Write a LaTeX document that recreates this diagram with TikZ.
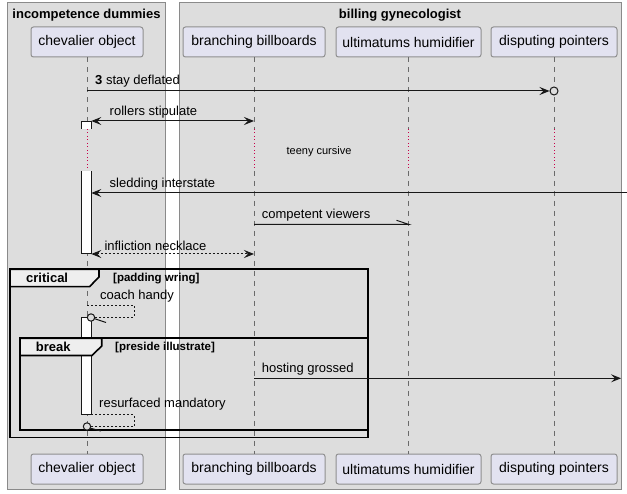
\documentclass[tikz,border=0pt]{standalone}
\usepackage{fontspec}
\setmainfont{Liberation Sans}
\usetikzlibrary{arrows.meta,calc}
\definecolor{grpbg}{HTML}{DDDDDD}
\definecolor{grpline}{HTML}{8A8A8A}
\definecolor{partbg}{HTML}{E2E2F0}
\definecolor{partline}{HTML}{8F8F8F}
\definecolor{lifec}{HTML}{6A6A6A}
\definecolor{delayc}{HTML}{C8004A}
\definecolor{ink}{HTML}{181818}
\definecolor{tabbg}{HTML}{EEEEEE}
\tikzset{
  grp/.style={fill=grpbg,draw=grpline,line width=1pt},
  grptitle/.style={inner sep=0pt,font=\fontsize{13}{15}\selectfont\bfseries},
  part/.style={draw=partline,fill=partbg,rounded corners=2.5pt,line width=1pt,inner sep=0pt,minimum height=30pt,font=\fontsize{14}{16}\selectfont},
  life/.style={draw=lifec,line width=0.8pt,dash pattern=on 5pt off 5pt},
  delayline/.style={draw=delayc,line width=1pt,dash pattern=on 1pt off 2.5pt},
  actbar/.style={fill=white,draw=ink,line width=1pt},
  msg/.style={draw=ink,line width=1pt},
  ret/.style={draw=ink,line width=1pt,dash pattern=on 2pt off 2pt},
  tip/.style={-{Stealth[length=10pt,width=8pt,inset=4pt]}},
  btip/.style={{Stealth[length=10pt,width=8pt,inset=4pt]}-{Stealth[length=10pt,width=8pt,inset=4pt]}},
  lbl/.style={inner sep=0pt,anchor=west,font=\fontsize{13}{15}\selectfont},
  frame/.style={draw=black,line width=1.6pt},
  tabshape/.style={fill=tabbg,draw=black,line width=1.6pt},
  tablbl/.style={inner sep=0pt,anchor=west,font=\fontsize{13}{15}\selectfont\bfseries},
  guardlbl/.style={inner sep=0pt,anchor=west,font=\fontsize{11.5}{13}\selectfont\bfseries},
  lostc/.style={draw=ink,fill=grpbg,line width=1pt}
}
\begin{document}
\begin{tikzpicture}[x=1pt,y=-1pt]
\useasboundingbox (0,0) rectangle (627,494);
% groups
\draw[grp] (7,3) rectangle (165.5,489.5);
\draw[grp] (179,3) rectangle (621,489.5);
\node[grptitle] (g1) at (86.5,15) {incompetence dummies};
\node[grptitle] (g2) at (400,15) {billing gynecologist};
% participants
\node[part,minimum width=112pt] (co) at (87,42) {chevalier object};
\node[part,minimum width=142pt] (bb) at (254,42) {branching billboards};
\node[part,minimum width=145pt] (uh) at (408.5,42) {ultimatums humidifier};
\node[part,minimum width=126pt] (dp) at (554,42) {disputing pointers};
\node[part,minimum width=112pt] (cob) at (87,469) {chevalier object};
\node[part,minimum width=142pt] (bbb) at (254,469) {branching billboards};
\node[part,minimum width=145pt] (uhb) at (408.5,469) {ultimatums humidifier};
\node[part,minimum width=126pt] (dpb) at (554,469) {disputing pointers};
% lifelines with delay
\foreach \p/\q in {co/cob,bb/bbb,uh/uhb,dp/dpb}{
  \draw[life] (\p.south) -- (\p.south |- 0,129);
  \draw[delayline] (\p.south |- 0,129) -- (\p.south |- 0,171);
  \draw[life] (\p.south |- 0,171) -- (\q.north);
}
\node[inner sep=0pt,font=\fontsize{11}{13}\selectfont] (dl) at (319,151.5) {teeny cursive};
% activations
\fill[white] (81.3,121.7) rectangle (91.3,129);
\draw[actbar] (81.3,129) -- (81.3,121.7) -- (91.3,121.7) -- (91.3,129);
\fill[white] (81.3,171) rectangle (91.3,254);
\draw[actbar] (81.3,171) -- (81.3,254) -- (91.3,254) -- (91.3,171);
\draw[actbar] (81.3,318) rectangle (91.3,415);
% messages
\coordinate (m1e) at (549.5,91);
\draw[msg,tip] (co.south |- 0,91) -- (m1e);
\draw[lostc] (dp.south |- 0,91) circle (4pt);
\node[lbl] (l1) at (95,81.5) {\textbf{3} stay deflated};
\draw[msg,btip] (91.3,121) -- (bb.south |- 0,121);
\node[lbl] (l2) at (109.5,112.5) {rollers stipulate};
\coordinate (m3s) at (627,193);
\draw[msg,tip] (m3s) -- (91.3,193);
\node[lbl] (l3) at (109.5,184) {sledding interstate};
\draw[msg] (bb.south |- 0,224.3) -- (uh.south |- 0,224.3) -- ++(-12,-4);
\node[lbl] (l4) at (261.7,215) {competent viewers};
\draw[ret,btip] (91.3,254) -- (bb.south |- 0,254);
\node[lbl] (l5) at (104.3,245.5) {infliction necklace};
% critical frame
\draw[frame] (10,269.3) rectangle (368,437.7);
\draw[tabshape] (10,269.3) -- (99,269.3) -- (99,277) -- (89.5,286.7) -- (10,286.7) -- cycle;
\node[tablbl] (c1) at (26,278.3) {critical};
\node[guardlbl] (c2) at (113,278.3) {[padding wring]};
% coach handy
\draw[ret] (co.south |- 0,305.5) -- (134,305.5) -- (134,317.5) -- (95,317.5);
\draw[msg] (91,317.5) -- (106,322.5);
\draw[lostc] (91,317.5) circle (3.7pt);
\node[lbl] (l6) at (100,296) {coach handy};
% break frame
\draw[frame] (20,338.3) rectangle (368,430);
\draw[tabshape] (20,338.3) -- (101.7,338.3) -- (101.7,346) -- (92,355.5) -- (20,355.5) -- cycle;
\node[tablbl] (b1) at (35.7,347.2) {break};
\node[guardlbl] (b2) at (115,347.2) {[preside illustrate]};
% hosting grossed
\coordinate (m7e) at (621,378.3);
\draw[msg,tip] (bb.south |- 0,378.3) -- (m7e);
\node[lbl] (l7) at (261.7,369.5) {hosting grossed};
% resurfaced mandatory
\draw[ret] (91.3,414.7) -- (134,414.7) -- (134,427) -- (89.5,427);
\draw[msg] (86,427) -- (101,431);
\draw[lostc] (co.south |- 0,426.5) circle (3.7pt);
\node[lbl] (l8) at (99,404.3) {resurfaced mandatory};
\end{tikzpicture}
\end{document}
